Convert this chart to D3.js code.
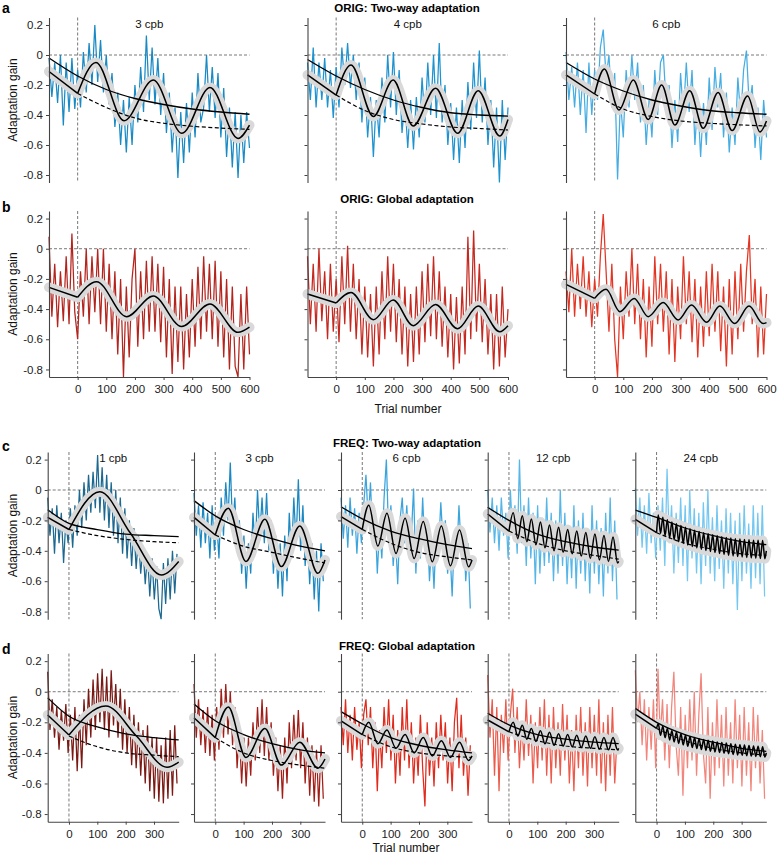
<!DOCTYPE html>
<html>
<head>
<meta charset="utf-8">
<script src="https://cdn.jsdelivr.net/npm/d3@7"></script>
<style>
  body { margin: 0; background: #fff; }
  svg { font-family: "Liberation Sans", Arial, sans-serif; }
</style>
</head>
<body>
<script>
// ---- trial grids ----
const origTrials = d3.range(-100, 601, 10);
const freqTrials = d3.range(-75, 385, 8);
const origTicks = [0, 100, 200, 300, 400, 500, 600];
const freqTicks = [0, 100, 200, 300];
const gainTicks = [0.2, 0, -0.2, -0.4, -0.6, -0.8];

// ---- row a : ORIG two-way ----
const a1Noise = [-0.02, -0.28, -0.05, -0.32, 0.0, -0.47, -0.05, -0.38, -0.02, -0.36,
  -0.1, -0.35, 0.02, -0.25, 0.08, -0.2, 0.2, -0.18, 0.1, -0.25,
  0.0, -0.33, -0.12, -0.48, -0.25, -0.6, -0.3, -0.65, -0.28, -0.6,
  -0.2, -0.45, -0.08, -0.38, 0.13, -0.3, 0.05, -0.33, -0.02, -0.4,
  -0.12, -0.52, -0.25, -0.65, -0.35, -0.82, -0.38, -0.72, -0.32, -0.65,
  -0.25, -0.55, -0.12, -0.45, -0.35, 0.0, -0.38, -0.08, -0.42, -0.12,
  -0.55, -0.22, -0.68, -0.35, -0.75, -0.38, -0.82, -0.4, -0.72, -0.38, -0.62];
const a1Pre = [[-100, -0.11], [0, -0.256]];
const a1Fit = [[0, -0.256], [64, -0.05], [162, -0.438], [264, -0.167], [364, -0.522], [462, -0.216], [560, -0.556], [600, -0.467]];
const a1Solid = [[-100, -0.02], [0, -0.14], [100, -0.23], [200, -0.29], [300, -0.33], [400, -0.36], [500, -0.38], [600, -0.395]];
const a1Dash = [[0, -0.256], [100, -0.35], [200, -0.42], [300, -0.455], [400, -0.475], [500, -0.487], [600, -0.496]];

const a2Noise = [-0.05, -0.3, 0.05, -0.35, -0.05, -0.3, -0.02, -0.35, -0.1, -0.42,
  -0.08, -0.35, 0.05, -0.2, 0.08, -0.22, 0.0, -0.3, -0.05, -0.45,
  -0.15, -0.55, -0.28, -0.68, -0.3, -0.55, -0.15, -0.45, 0.0, -0.35,
  0.02, -0.4, -0.1, -0.52, -0.3, -0.62, -0.3, -0.63, -0.28, -0.55,
  -0.15, -0.45, -0.05, -0.4, 0.0, -0.42, 0.08, -0.45, -0.2, -0.6,
  -0.32, -0.7, -0.35, -0.72, -0.3, -0.62, -0.18, -0.5, -0.05, -0.42,
  0.03, -0.45, -0.15, -0.6, -0.3, -0.75, -0.35, -0.85, -0.3, -0.7, -0.35];
const a2Pre = [[-100, -0.133], [0, -0.267]];
const a2Fit = [[0, -0.267], [52, -0.067], [130, -0.41], [199, -0.167], [269, -0.473], [347, -0.222], [424, -0.522], [496, -0.238], [571, -0.54], [600, -0.43]];
const a2Solid = [[-100, -0.03], [0, -0.14], [100, -0.23], [200, -0.3], [300, -0.35], [400, -0.385], [500, -0.4], [600, -0.407]];
const a2Dash = [[0, -0.267], [100, -0.37], [200, -0.43], [300, -0.46], [400, -0.48], [500, -0.49], [600, -0.5]];

const a3Noise = [0.02, -0.3, -0.08, -0.35, -0.05, -0.4, -0.1, -0.52, -0.05, -0.4,
  -0.1, -0.3, 0.05, 0.17, -0.15, 0.0, -0.35, -0.12, -0.83, -0.3,
  -0.55, -0.1, -0.35, 0.0, -0.3, -0.05, -0.45, -0.2, -0.6, -0.3,
  -0.55, -0.1, -0.4, -0.05, 0.0, -0.35, -0.2, -0.62, -0.3, -0.58,
  -0.12, -0.4, -0.05, -0.38, -0.1, -0.6, -0.3, -0.68, -0.32, -0.6,
  -0.15, -0.5, -0.08, -0.35, -0.12, -0.55, -0.25, -0.65, -0.35, -0.6,
  -0.15, -0.42, -0.1, 0.03, -0.35, -0.2, -0.62, -0.35, -0.7, -0.3, -0.55];
const a3Pre = [[-100, -0.133], [0, -0.26]];
const a3Fit = [[0, -0.26], [34, -0.093], [85, -0.367], [135, -0.167], [187, -0.43], [234, -0.2], [280, -0.467], [332, -0.238], [379, -0.489], [431, -0.25], [480, -0.504], [534, -0.273], [577, -0.513], [600, -0.44]];
const a3Solid = [[-100, -0.05], [0, -0.16], [100, -0.24], [200, -0.3], [300, -0.34], [400, -0.37], [500, -0.385], [600, -0.395]];
const a3Dash = [[0, -0.26], [100, -0.36], [200, -0.41], [300, -0.44], [400, -0.455], [500, -0.465], [600, -0.473]];

// ---- row b : ORIG global ----
const b1Noise = [0.08, -0.45, -0.1, -0.52, -0.15, -0.48, -0.05, -0.5, 0.1, -0.42,
  -0.6, -0.15, -0.45, 0.0, -0.5, -0.05, -0.42, 0.0, -0.5, 0.0,
  -0.55, -0.1, -0.6, -0.15, -0.7, -0.2, -0.85, -0.25, -0.72, -0.2,
  0.0, -0.65, -0.15, -0.6, -0.08, -0.55, -0.05, -0.55, -0.1, -0.62,
  -0.12, -0.72, -0.2, -0.83, -0.25, -0.75, -0.25, -0.8, -0.3, -0.72,
  -0.2, -0.65, -0.12, -0.6, -0.05, -0.55, -0.1, -0.6, -0.08, -0.65,
  -0.15, -0.72, -0.2, -0.8, -0.25, -0.78, -0.85, -0.3, -0.8, -0.25, -0.7];
const b1Pre = [[-100, -0.256], [0, -0.322]];
const b1Fit = [[0, -0.322], [66, -0.218], [171, -0.45], [264, -0.313], [363, -0.516], [462, -0.366], [560, -0.554], [600, -0.52]];

const b2Noise = [-0.05, -0.5, -0.1, -0.55, 0.0, -0.48, -0.15, -0.6, -0.1, -0.55,
  -0.2, -0.62, -0.05, -0.5, 0.02, -0.55, -0.1, -0.6, -0.2, -0.7,
  -0.25, -0.72, -0.3, -0.78, -0.25, -0.7, -0.15, -0.6, -0.05, -0.55,
  -0.1, -0.62, -0.2, -0.7, -0.25, -0.78, -0.3, -0.75, -0.25, -0.7,
  -0.15, -0.62, -0.1, -0.58, -0.05, -0.6, -0.15, -0.65, -0.25, -0.72,
  -0.3, -0.8, -0.32, -0.76, -0.25, -0.7, 0.08, -0.6, 0.12, -0.55,
  -0.1, -0.62, -0.2, -0.7, -0.3, -0.8, -0.3, -0.78, -0.25, -0.72, -0.4];
const b2Pre = [[-100, -0.3], [0, -0.36]];
const b2Fit = [[0, -0.36], [52, -0.29], [130, -0.47], [199, -0.34], [269, -0.51], [347, -0.37], [424, -0.53], [496, -0.38], [571, -0.55], [600, -0.51]];

const b3Noise = [-0.15, -0.42, 0.0, -0.45, -0.1, -0.4, -0.05, -0.45, -0.15, -0.52,
  -0.2, -0.45, -0.05, 0.23, -0.15, -0.55, -0.1, -0.6, -0.85, -0.25,
  -0.6, -0.15, -0.45, 0.0, -0.5, -0.1, -0.6, -0.2, -0.72, -0.25,
  -0.65, -0.05, -0.5, -0.1, -0.55, -0.15, -0.7, -0.2, -0.75, -0.25,
  -0.6, -0.05, -0.5, -0.15, -0.62, -0.2, -0.72, -0.25, -0.65, -0.15,
  -0.58, -0.1, -0.55, -0.15, -0.68, -0.25, -0.78, -0.2, -0.7, -0.15,
  -0.6, -0.1, -0.55, -0.15, 0.09, -0.5, -0.2, -0.72, -0.25, -0.7, -0.3];
const b3Pre = [[-100, -0.236], [0, -0.329]];
const b3Fit = [[0, -0.329], [40, -0.269], [88, -0.417], [138, -0.329], [187, -0.45], [239, -0.357], [292, -0.472], [338, -0.373], [391, -0.487], [437, -0.38], [489, -0.496], [539, -0.38], [588, -0.496], [600, -0.49]];

// ---- row c : FREQ two-way ----
const c1Noise = [-0.05, -0.3, -0.12, -0.42, -0.1, -0.35, -0.15, -0.48, -0.2, -0.35,
  -0.12, -0.38, -0.1, -0.3, 0.0, -0.25, 0.05, -0.2, 0.1, -0.15,
  0.12, -0.12, 0.23, -0.15, 0.15, -0.2, 0.1, -0.25, 0.05, -0.3,
  0.0, -0.35, -0.05, -0.42, -0.12, -0.45, -0.2, -0.5, -0.25, -0.52,
  -0.3, -0.55, -0.38, -0.62, -0.42, -0.7, -0.45, -0.72, -0.5, -0.78,
  -0.85, -0.48, -0.75, -0.45, -0.72, -0.4, -0.68, -0.42];
const c1Pre = [[-75, -0.18], [0, -0.26]];
const c1Fit = [[0, -0.26], [109, -0.011], [217, -0.285], [326, -0.559], [387, -0.47]];
const c1Solid = [[-75, -0.13], [0, -0.22], [100, -0.26], [200, -0.29], [300, -0.3], [387, -0.307]];
const c1Dash = [[0, -0.26], [100, -0.3], [200, -0.325], [300, -0.34], [387, -0.347]];

const c2Noise = [-0.02, -0.3, -0.1, -0.38, -0.08, -0.35, -0.15, -0.45, -0.1, -0.4,
  -0.2, -0.45, -0.05, -0.3, 0.05, -0.2, 0.18, -0.25, -0.05, -0.4,
  -0.2, -0.55, -0.3, -0.65, -0.35, -0.55, -0.15, -0.4, 0.0, -0.3,
  -0.05, -0.35, -0.02, -0.4, -0.2, -0.55, -0.3, -0.65, -0.35, -0.7,
  -0.3, -0.6, -0.15, -0.45, -0.05, -0.35, 0.07, -0.4, -0.1, -0.5,
  -0.3, -0.62, -0.35, -0.72, -0.4, -0.8, -0.35, -0.6];
const c2Pre = [[-75, -0.18], [0, -0.296]];
const c2Fit = [[0, -0.296], [46, -0.12], [108, -0.47], [175, -0.193], [233, -0.504], [298, -0.237], [362, -0.548], [387, -0.46]];
const c2Solid = [[-75, -0.07], [0, -0.17], [100, -0.26], [200, -0.32], [300, -0.37], [387, -0.4]];
const c2Dash = [[0, -0.296], [100, -0.37], [200, -0.41], [300, -0.45], [387, -0.48]];

const c3Noise = [-0.05, -0.32, -0.1, -0.38, -0.05, -0.3, -0.12, -0.42, -0.15, -0.35,
  -0.1, 0.1, -0.2, 0.05, -0.35, -0.15, -0.55, -0.25, -0.45, -0.05,
  0.2, -0.3, -0.1, -0.5, -0.3, -0.62, -0.2, -0.05, -0.35, -0.1,
  -0.42, -0.3, 0.01, -0.55, -0.2, -0.45, -0.05, -0.4, -0.2, -0.6,
  -0.35, -0.65, -0.25, -0.4, -0.08, -0.35, -0.2, -0.55, -0.38, -0.7,
  -0.3, -0.45, -0.1, -0.4, -0.25, -0.6, -0.35, -0.78];
const c3Pre = [[-75, -0.175], [0, -0.259]];
const c3Fit = [[0, -0.259], [23, -0.1], [55, -0.368], [87, -0.153], [119, -0.417], [151, -0.186], [183, -0.45], [215, -0.208], [247, -0.472], [279, -0.237], [311, -0.498], [343, -0.263], [375, -0.505], [387, -0.46]];
const c3Solid = [[-75, -0.11], [0, -0.19], [100, -0.27], [200, -0.32], [300, -0.36], [387, -0.385]];
const c3Dash = [[0, -0.259], [100, -0.35], [200, -0.41], [300, -0.44], [387, -0.46]];

const c4Noise = [0.0, -0.28, -0.05, -0.35, -0.1, -0.4, -0.05, -0.3, -0.15, -0.45,
  0.0, -0.3, -0.1, -0.42, 0.2, -0.35, -0.1, -0.5, -0.05, -0.45,
  -0.15, -0.62, -0.1, -0.55, -0.2, -0.5, -0.05, -0.48, -0.15, -0.6,
  -0.2, -0.55, 0.0, -0.5, -0.15, -0.62, -0.25, -0.58, -0.1, -0.65,
  -0.2, -0.55, -0.15, -0.6, -0.25, -0.68, -0.1, -0.55, -0.2, -0.62,
  -0.25, -0.7, -0.15, -0.55, -0.05, -0.6, -0.2, -0.72];
const c4Pre = [[-75, -0.158], [0, -0.27]];
const c4Fit = [[0, -0.27], [15, -0.15], [31, -0.32], [47, -0.17], [63, -0.34], [79, -0.19], [95, -0.36], [111, -0.21], [127, -0.38], [143, -0.23], [159, -0.4], [175, -0.245], [191, -0.41], [207, -0.26], [223, -0.42], [239, -0.27], [255, -0.435], [271, -0.28], [287, -0.45], [303, -0.29], [319, -0.46], [335, -0.3], [351, -0.47], [367, -0.31], [383, -0.48], [387, -0.47]];
const c4Solid = [[-75, -0.114], [0, -0.2], [100, -0.29], [200, -0.34], [300, -0.375], [387, -0.395]];
const c4Dash = [[0, -0.27], [100, -0.35], [200, -0.4], [300, -0.43], [387, -0.455]];

const c5Noise = [0.01, -0.3, -0.05, -0.38, -0.1, -0.42, -0.02, -0.35, -0.15, -0.45,
  -0.1, -0.4, -0.05, -0.5, 0.14, -0.35, -0.1, -0.55, -0.15, -0.48,
  -0.05, -0.5, -0.1, -0.6, 0.0, -0.45, -0.12, -0.55, -0.15, -0.62,
  -0.08, -0.5, 0.0, -0.55, -0.18, -0.6, -0.1, -0.52, -0.2, -0.65,
  -0.12, -0.55, -0.15, -0.62, -0.2, -0.79, -0.15, -0.6, -0.1, -0.55,
  -0.22, -0.65, -0.1, -0.58, -0.15, -0.62, -0.1, -0.7];
const c5Pre = [[-75, -0.193], [0, -0.281]];
const c5Fit = [[0, -0.281], [6, -0.165], [14, -0.285], [22, -0.18], [30, -0.3], [38, -0.195], [46, -0.315], [54, -0.21], [62, -0.328], [70, -0.222], [78, -0.34], [86, -0.234], [94, -0.352], [102, -0.245], [110, -0.362], [118, -0.255], [126, -0.372], [134, -0.264], [142, -0.381], [150, -0.273], [158, -0.39], [166, -0.281], [174, -0.398], [182, -0.288], [190, -0.405], [198, -0.295], [206, -0.412], [214, -0.301], [222, -0.418], [230, -0.307], [238, -0.424], [246, -0.312], [254, -0.429], [262, -0.316], [270, -0.434], [278, -0.32], [286, -0.438], [294, -0.323], [302, -0.441], [310, -0.326], [318, -0.444], [326, -0.328], [334, -0.447], [342, -0.33], [350, -0.449], [358, -0.331], [366, -0.451], [374, -0.332], [382, -0.452], [387, -0.4]];
const c5Solid = [[-75, -0.132], [0, -0.18], [100, -0.25], [200, -0.3], [300, -0.34], [387, -0.36]];
const c5Dash = [[0, -0.281], [100, -0.35], [200, -0.39], [300, -0.42], [387, -0.43]];

// ---- row d : FREQ global ----
const d1Noise = [0.13, -0.25, -0.05, -0.3, -0.1, -0.38, -0.12, -0.32, -0.08, -0.4,
  -0.15, -0.45, -0.1, -0.52, -0.15, -0.5, -0.05, -0.35, 0.02, -0.3,
  0.08, -0.25, 0.12, -0.2, 0.15, -0.25, 0.1, -0.3, 0.14, -0.22,
  0.05, -0.3, 0.02, -0.38, -0.05, -0.4, -0.1, -0.48, -0.15, -0.5,
  -0.2, -0.55, -0.25, -0.6, -0.22, -0.65, -0.3, -0.7, -0.3, -0.72,
  -0.35, -0.73, -0.3, -0.7, -0.25, -0.68, -0.22, -0.6];
const d1Pre = [[-75, -0.152], [0, -0.283]];
const d1Fit = [[0, -0.283], [130, -0.093], [238, -0.29], [346, -0.494], [387, -0.46]];
const d1Solid = [[-75, -0.04], [0, -0.16], [100, -0.23], [200, -0.275], [300, -0.3], [387, -0.315]];
const d1Dash = [[0, -0.29], [100, -0.36], [200, -0.4], [300, -0.415], [387, -0.425]];

const d2Noise = [0.05, -0.3, -0.05, -0.35, -0.12, -0.4, -0.1, -0.42, -0.15, -0.45,
  -0.1, -0.38, 0.02, -0.3, 0.05, -0.28, 0.0, -0.35, -0.1, -0.5,
  -0.25, -0.6, -0.3, -0.62, -0.3, -0.55, -0.2, -0.45, -0.1, -0.4,
  -0.05, -0.42, -0.1, -0.45, -0.2, -0.55, -0.3, -0.65, -0.35, -0.7,
  -0.3, -0.6, -0.2, -0.5, -0.15, -0.45, -0.12, -0.5, -0.2, -0.6,
  -0.3, -0.68, -0.35, -0.72, -0.38, -0.75, -0.35, -0.7];
const d2Pre = [[-75, -0.17], [0, -0.3]];
const d2Fit = [[0, -0.3], [46, -0.1], [108, -0.43], [175, -0.24], [233, -0.48], [298, -0.33], [362, -0.5], [387, -0.44]];
const d2Solid = [[-75, -0.08], [0, -0.19], [100, -0.28], [200, -0.34], [300, -0.38], [387, -0.4]];
const d2Dash = [[0, -0.3], [100, -0.4], [200, -0.45], [300, -0.48], [387, -0.5]];

const d3Noise = [-0.1, -0.35, -0.05, -0.4, -0.15, -0.45, -0.1, -0.38, -0.2, -0.5,
  -0.15, -0.05, -0.35, -0.1, -0.5, -0.2, -0.65, -0.25, -0.5, -0.1,
  -0.4, -0.05, -0.45, -0.15, -0.6, -0.25, -0.55, -0.1, -0.45, -0.05,
  -0.5, -0.2, -0.6, -0.3, -0.55, -0.15, -0.5, -0.75, -0.2, -0.55,
  -0.3, -0.62, -0.2, -0.5, -0.15, -0.45, -0.2, -0.6, -0.3, -0.65,
  -0.2, -0.04, -0.5, -0.15, -0.55, -0.3, -0.68, -0.35];
const d3Pre = [[-75, -0.19], [0, -0.28]];
const d3Fit = [[0, -0.28], [23, -0.2], [55, -0.34], [87, -0.25], [119, -0.37], [151, -0.28], [183, -0.4], [215, -0.3], [247, -0.42], [279, -0.32], [311, -0.43], [343, -0.33], [375, -0.45], [387, -0.42]];
const d3Solid = [[-75, -0.13], [0, -0.21], [100, -0.3], [200, -0.35], [300, -0.38], [387, -0.4]];
const d3Dash = [[0, -0.28], [100, -0.36], [200, -0.4], [300, -0.42], [387, -0.43]];

const d4Noise = [0.11, -0.3, -0.05, -0.55, -0.1, -0.65, -0.15, -0.4, -0.05, -0.45,
  -0.15, 0.02, -0.4, -0.1, -0.5, -0.2, -0.45, -0.05, -0.42, -0.15,
  -0.6, -0.2, -0.5, -0.1, -0.45, -0.05, -0.55, -0.15, -0.6, -0.1,
  -0.5, -0.2, -0.55, -0.08, -0.45, -0.15, -0.6, -0.25, -0.65, -0.15,
  -0.5, -0.1, -0.55, -0.2, -0.62, -0.1, -0.5, -0.15, -0.55, -0.05,
  -0.6, -0.2, -0.65, -0.15, -0.55, -0.1, -0.6, -0.3];
const d4Pre = [[-75, -0.185], [0, -0.262]];
const d4Fit = [[0, -0.262], [15, -0.2], [31, -0.29], [47, -0.22], [63, -0.31], [79, -0.24], [95, -0.325], [111, -0.255], [127, -0.34], [143, -0.265], [159, -0.35], [175, -0.275], [191, -0.355], [207, -0.28], [223, -0.36], [239, -0.285], [255, -0.365], [271, -0.29], [287, -0.37], [303, -0.295], [319, -0.375], [335, -0.3], [351, -0.38], [367, -0.3], [383, -0.38], [387, -0.37]];
const d4Solid = [[-75, -0.141], [0, -0.217], [100, -0.28], [200, -0.31], [300, -0.33], [387, -0.34]];
const d4Dash = [[0, -0.262], [100, -0.32], [200, -0.355], [300, -0.37], [387, -0.38]];

const d5Noise = [0.14, -0.2, 0.0, -0.35, -0.05, -0.45, -0.1, -0.38, -0.05, -0.5,
  0.15, -0.3, -0.05, -0.45, -0.08, -0.5, -0.1, 0.13, -0.35, -0.55,
  -0.1, -0.68, -0.15, -0.5, -0.05, -0.45, 0.0, -0.55, -0.15, 0.12,
  -0.4, -0.6, -0.1, -0.7, -0.2, -0.55, -0.05, -0.5, -0.15, -0.62,
  -0.1, -0.55, -0.2, -0.6, -0.05, -0.5, -0.15, -0.62, -0.1, -0.55,
  -0.2, -0.65, -0.1, -0.5, -0.15, -0.6, -0.25, -0.7];
const d5Pre = [[-75, -0.146], [0, -0.24]];
const d5Fit = [[0, -0.24], [6, -0.21], [14, -0.285], [22, -0.225], [30, -0.3], [38, -0.24], [46, -0.315], [54, -0.255], [62, -0.328], [70, -0.265], [78, -0.338], [86, -0.275], [94, -0.348], [102, -0.285], [110, -0.357], [118, -0.293], [126, -0.365], [134, -0.3], [142, -0.372], [150, -0.307], [158, -0.378], [166, -0.313], [174, -0.384], [182, -0.318], [190, -0.389], [198, -0.323], [206, -0.394], [214, -0.328], [222, -0.398], [230, -0.332], [238, -0.402], [246, -0.336], [254, -0.406], [262, -0.34], [270, -0.41], [278, -0.343], [286, -0.413], [294, -0.346], [302, -0.416], [310, -0.349], [318, -0.419], [326, -0.352], [334, -0.421], [342, -0.355], [350, -0.423], [358, -0.357], [366, -0.425], [374, -0.36], [382, -0.427], [387, -0.4]];
const d5Solid = [[-75, -0.109], [0, -0.2], [100, -0.28], [200, -0.33], [300, -0.37], [387, -0.39]];
const d5Dash = [[0, -0.24], [100, -0.32], [200, -0.37], [300, -0.4], [387, -0.415]];

// ---- layout ----
const width = 777, height = 854;
const svg = d3.select("body").append("svg")
  .attr("width", width)
  .attr("height", height);

const rowsCfg = [
  { letter: "a", top: 17.5, bottom: 182.5, title: "ORIG: Two-way adaptation", titleY: 12.3, letterY: 13, cpbY: 28, set: "orig", xAxis: false },
  { letter: "b", top: 211, bottom: 377, title: "ORIG: Global adaptation", titleY: 203, letterY: 212, cpbY: null, set: "orig", xAxis: true, xLabelY: 413 },
  { letter: "c", top: 452, bottom: 619.2, title: "FREQ: Two-way adaptation", titleY: 447, letterY: 451, cpbY: 462.3, set: "freq", xAxis: false },
  { letter: "d", top: 653.5, bottom: 821.7, title: "FREQ: Global adaptation", titleY: 649.7, letterY: 653.5, cpbY: null, set: "freq", xAxis: true, xLabelY: 851.5 }
];

const sets = {
  orig: { lefts: [49, 307.5, 566], w: 200.5, domain: [-100, 600], trials: origTrials, ticks: origTicks, xLabelX: 408 },
  freq: { lefts: [47.7, 194, 341, 487.7, 635.3], w: 131, domain: [-75, 387], trials: freqTrials, ticks: freqTicks, xLabelX: 406 }
};

const panels = [
  { row: 0, col: 0, cpb: "3 cpb", color: "#1a8ac4", noise: a1Noise, pre: a1Pre, fit: a1Fit, solid: a1Solid, dash: a1Dash },
  { row: 0, col: 1, cpb: "4 cpb", color: "#1e93cf", noise: a2Noise, pre: a2Pre, fit: a2Fit, solid: a2Solid, dash: a2Dash },
  { row: 0, col: 2, cpb: "6 cpb", color: "#45ade2", noise: a3Noise, pre: a3Pre, fit: a3Fit, solid: a3Solid, dash: a3Dash },
  { row: 1, col: 0, color: "#b3241d", noise: b1Noise, pre: b1Pre, fit: b1Fit },
  { row: 1, col: 1, color: "#c4281f", noise: b2Noise, pre: b2Pre, fit: b2Fit },
  { row: 1, col: 2, color: "#e23524", noise: b3Noise, pre: b3Pre, fit: b3Fit },
  { row: 2, col: 0, cpb: "1 cpb", color: "#1c6890", noise: c1Noise, pre: c1Pre, fit: c1Fit, solid: c1Solid, dash: c1Dash },
  { row: 2, col: 1, cpb: "3 cpb", color: "#1b88c2", noise: c2Noise, pre: c2Pre, fit: c2Fit, solid: c2Solid, dash: c2Dash },
  { row: 2, col: 2, cpb: "6 cpb", color: "#3ba4dd", noise: c3Noise, pre: c3Pre, fit: c3Fit, solid: c3Solid, dash: c3Dash },
  { row: 2, col: 3, cpb: "12 cpb", color: "#55b6e7", noise: c4Noise, pre: c4Pre, fit: c4Fit, solid: c4Solid, dash: c4Dash },
  { row: 2, col: 4, cpb: "24 cpb", color: "#74c7f0", noise: c5Noise, pre: c5Pre, fit: c5Fit, solid: c5Solid, dash: c5Dash },
  { row: 3, col: 0, color: "#7a1913", noise: d1Noise, pre: d1Pre, fit: d1Fit, solid: d1Solid, dash: d1Dash },
  { row: 3, col: 1, color: "#a01e17", noise: d2Noise, pre: d2Pre, fit: d2Fit, solid: d2Solid, dash: d2Dash },
  { row: 3, col: 2, color: "#e02a1c", noise: d3Noise, pre: d3Pre, fit: d3Fit, solid: d3Solid, dash: d3Dash },
  { row: 3, col: 3, color: "#eb5a4b", noise: d4Noise, pre: d4Pre, fit: d4Fit, solid: d4Solid, dash: d4Dash },
  { row: 3, col: 4, color: "#f2867c", noise: d5Noise, pre: d5Pre, fit: d5Fit, solid: d5Solid, dash: d5Dash }
];

const fmtGain = (d) => (d === 0 ? "0" : d.toFixed(1));

panels.forEach((p) => {
  const r = rowsCfg[p.row];
  const s = sets[r.set];
  const left = s.lefts[p.col];

  const x = d3.scaleLinear().domain(s.domain).range([left, left + s.w]);
  const y = d3.scaleLinear().domain([-0.85, 0.25]).range([r.bottom, r.top]);
  const g = svg.append("g");

  // reference lines
  g.append("line")
    .attr("x1", x(s.domain[0])).attr("x2", x(s.domain[1]))
    .attr("y1", y(0)).attr("y2", y(0))
    .attr("stroke", "#555").attr("stroke-width", 0.8)
    .attr("stroke-dasharray", "3,2");
  g.append("line")
    .attr("x1", x(0)).attr("x2", x(0))
    .attr("y1", y(0.25)).attr("y2", y(-0.85))
    .attr("stroke", "#555").attr("stroke-width", 0.8)
    .attr("stroke-dasharray", "3,2");

  // trial-by-trial data
  const noiseLine = d3.line()
    .x((d, i) => x(s.trials[i]))
    .y((d) => y(d));
  g.append("path")
    .attr("d", noiseLine(p.noise))
    .attr("fill", "none")
    .attr("stroke", p.color)
    .attr("stroke-width", 1.25);

  const fitLine = d3.line()
    .x((d) => x(d[0]))
    .y((d) => y(d[1]))
    .curve(d3.curveMonotoneX);

  // grey band round the fit
  [p.pre, p.fit].forEach((seg) => {
    g.append("path")
      .attr("d", fitLine(seg))
      .attr("fill", "none")
      .attr("stroke", "#d9d9d9")
      .attr("stroke-width", 10)
      .attr("stroke-linecap", "round")
      .attr("stroke-linejoin", "round");
  });

  if (p.dash) {
    g.append("path")
      .attr("d", fitLine(p.dash))
      .attr("fill", "none")
      .attr("stroke", "#000")
      .attr("stroke-width", 1.2)
      .attr("stroke-dasharray", "4,2.5");
  }
  if (p.solid) {
    g.append("path")
      .attr("d", fitLine(p.solid))
      .attr("fill", "none")
      .attr("stroke", "#000")
      .attr("stroke-width", 1.3);
  }
  [p.pre, p.fit].forEach((seg) => {
    g.append("path")
      .attr("d", fitLine(seg))
      .attr("fill", "none")
      .attr("stroke", "#000")
      .attr("stroke-width", 1.5)
      .attr("stroke-linejoin", "round");
  });

  // y axis
  const yAxis = d3.axisLeft(y)
    .tickValues(gainTicks)
    .tickSize(3)
    .tickSizeOuter(0)
    .tickPadding(3)
    .tickFormat(p.col === 0 ? fmtGain : () => "");
  const ya = g.append("g")
    .attr("transform", `translate(${left},0)`)
    .call(yAxis);
  ya.select(".domain").attr("stroke", "#444").attr("stroke-width", 1.1);
  ya.selectAll(".tick line").attr("stroke", "#444");
  ya.selectAll("text").attr("font-size", 11.5).attr("fill", "#222")
    .attr("font-family", "Liberation Sans, Arial, sans-serif");

  // x axis
  if (r.xAxis) {
    const xAxis = d3.axisBottom(x)
      .tickValues(s.ticks)
      .tickSize(3)
      .tickSizeOuter(0)
      .tickPadding(5);
    const xa = g.append("g")
      .attr("transform", `translate(0,${r.bottom})`)
      .call(xAxis);
    xa.select(".domain").attr("stroke", "#444").attr("stroke-width", 1.1);
    xa.selectAll(".tick line").attr("stroke", "#444");
    xa.selectAll("text").attr("font-size", 11.5).attr("fill", "#222")
      .attr("font-family", "Liberation Sans, Arial, sans-serif");
  }

  if (p.cpb) {
    g.append("text")
      .attr("x", left + s.w / 2)
      .attr("y", r.cpbY)
      .attr("text-anchor", "middle")
      .attr("font-size", 11.5)
      .attr("fill", "#111")
      .text(p.cpb);
  }
});

// row titles, letters, axis labels
rowsCfg.forEach((r) => {
  const s = sets[r.set];
  svg.append("text")
    .attr("x", 2).attr("y", r.letterY)
    .attr("font-size", 14).attr("font-weight", "bold")
    .text(r.letter);

  svg.append("text")
    .attr("x", 407).attr("y", r.titleY)
    .attr("text-anchor", "middle")
    .attr("font-size", 11.5).attr("font-weight", "bold")
    .text(r.title);

  svg.append("text")
    .attr("transform", `translate(17,${(r.top + r.bottom) / 2}) rotate(-90)`)
    .attr("text-anchor", "middle")
    .attr("font-size", 12)
    .attr("fill", "#111")
    .text("Adaptation gain");

  if (r.xAxis) {
    svg.append("text")
      .attr("x", s.xLabelX).attr("y", r.xLabelY)
      .attr("text-anchor", "middle")
      .attr("font-size", 12)
      .attr("fill", "#111")
      .text("Trial number");
  }
});
</script>
</body>
</html>
